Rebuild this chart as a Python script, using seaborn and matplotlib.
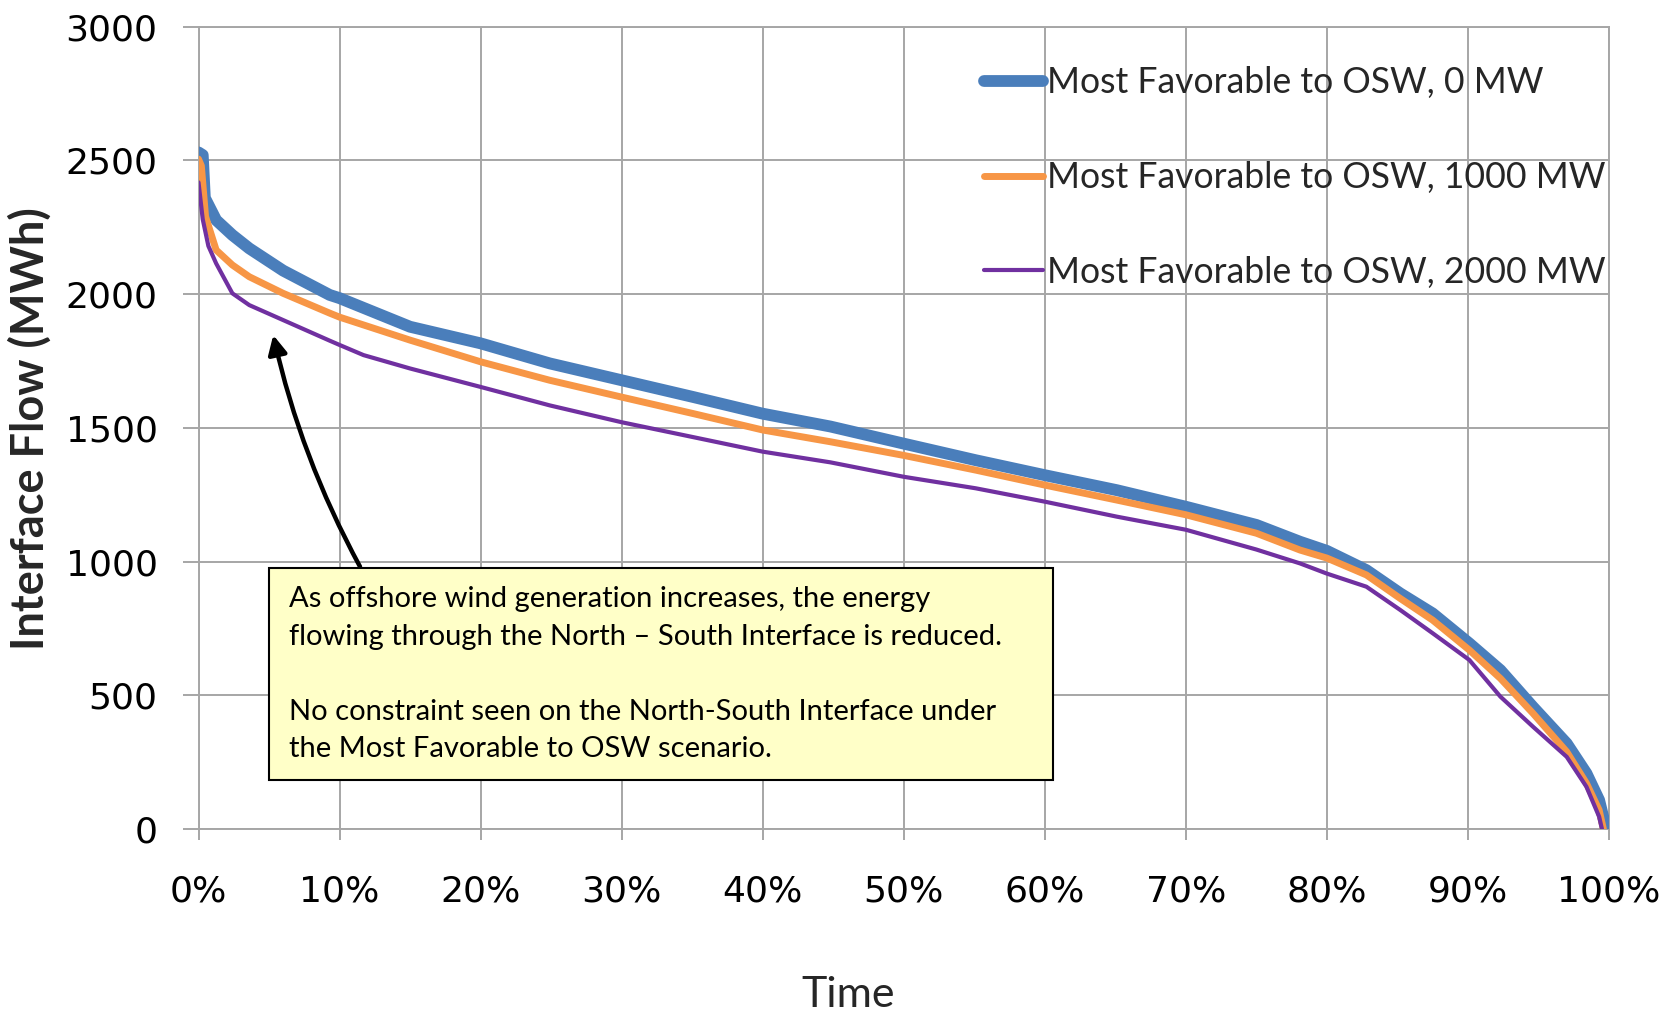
import matplotlib
matplotlib.use("Agg")
import matplotlib.pyplot as plt
from matplotlib.patches import Rectangle
import seaborn as sns
import pandas as pd

# Duration curves of North-South interface flow (share of hours, MWh)
time_0mw = [0.0, 0.3, 0.45, 1.25, 2.4, 3.6, 6.0, 9.3, 10.0, 15.0, 20.0, 24.9, 30.0,
            35.1, 40.0, 44.8, 50.0, 55.1, 60.0, 65.1, 70.0, 75.0, 78.1, 80.0, 82.8,
            85.2, 87.5, 90.1, 92.3, 94.6, 97.0, 98.4, 99.3, 99.8]
flow_0mw = [2530, 2520, 2360, 2277, 2221, 2171, 2088, 1997, 1985, 1878, 1816, 1741, 1678,
            1615, 1553, 1505, 1441, 1379, 1323, 1267, 1205, 1137, 1074, 1040, 968,
            881, 806, 694, 594, 457, 320, 208, 108, 0]

time_1000mw = [0.0, 0.2, 0.5, 1.25, 2.4, 3.6, 6.0, 9.3, 10.0, 15.0, 20.0, 24.9, 30.0,
               35.1, 40.0, 44.8, 50.0, 55.1, 60.0, 65.1, 70.0, 75.0, 78.1, 80.0, 82.8,
               85.2, 87.5, 90.1, 92.3, 94.6, 97.0, 98.4, 99.3, 99.6]
flow_1000mw = [2505, 2480, 2290, 2165, 2109, 2065, 2003, 1929, 1914, 1828, 1747, 1678, 1615,
               1553, 1492, 1448, 1397, 1342, 1286, 1230, 1175, 1106, 1043, 1013, 950,
               862, 781, 669, 563, 433, 289, 171, 71, 0]

time_2000mw = [0.0, 0.3, 0.7, 1.25, 2.4, 3.6, 6.0, 9.3, 10.0, 11.7, 15.0, 20.0, 24.9,
               30.0, 35.1, 40.0, 44.8, 50.0, 55.1, 60.0, 65.1, 70.0, 75.0, 78.1, 80.0,
               82.8, 85.2, 87.5, 90.1, 92.3, 94.6, 97.0, 98.4, 99.3, 99.5]
flow_2000mw = [2418, 2280, 2180, 2115, 2003, 1959, 1903, 1826, 1810, 1772, 1722, 1653, 1584,
               1521, 1465, 1411, 1371, 1317, 1274, 1224, 1168, 1119, 1045, 993, 955,
               906, 819, 732, 632, 495, 383, 270, 158, 46, 0]

series_labels = ["Most Favorable to OSW, 0 MW",
                 "Most Favorable to OSW, 1000 MW",
                 "Most Favorable to OSW, 2000 MW"]
series_colors = ["#4a7ebb", "#f79646", "#7030a0"]
series_widths = [8.5, 5.0, 3.0]

x_ticks = [0, 10, 20, 30, 40, 50, 60, 70, 80, 90, 100]
x_tick_labels = [f"{t}%" for t in x_ticks]
y_ticks = [0, 500, 1000, 1500, 2000, 2500, 3000]

note_lines = ["As offshore wind generation increases, the energy",
              "flowing through the North \u2013 South Interface is reduced.",
              "",
              "No constraint seen on the North-South Interface under",
              "the Most Favorable to OSW scenario."]

sns.set_theme(style="white")
plt.rcParams["font.family"] = ["DejaVu Sans"]

grid_gray = "#a6a6a6"
text_font = ["Lato", "DejaVu Sans"]

fig = plt.figure(figsize=(16.73, 10.13), dpi=100)
ax = fig.add_axes([198.5 / 1673, 1 - 829 / 1013, 1410.5 / 1673, 802.3 / 1013])

frames = [
    pd.DataFrame({"time": time_0mw, "flow": flow_0mw}),
    pd.DataFrame({"time": time_1000mw, "flow": flow_1000mw}),
    pd.DataFrame({"time": time_2000mw, "flow": flow_2000mw}),
]
for df, lab, col, lw in zip(frames, series_labels, series_colors, series_widths):
    sns.lineplot(data=df, x="time", y="flow", ax=ax, color=col, linewidth=lw,
                 label=lab, sort=False, estimator=None, zorder=3)
for ln in ax.get_lines():
    ln.set_solid_capstyle("round")
    ln.set_solid_joinstyle("round")

ax.set_xlim(0, 100)
ax.set_ylim(0, 3000)
ax.set_xticks(x_ticks)
ax.set_xticklabels(x_tick_labels)
ax.set_yticks(y_ticks)
ax.grid(True, color=grid_gray, linewidth=1.4)
ax.set_axisbelow(True)
for sp in ax.spines.values():
    sp.set_color(grid_gray)
    sp.set_linewidth(1.4)
ax.tick_params(axis="y", direction="out", length=11.5, width=1.4, color=grid_gray,
               labelsize=26, pad=18, left=True, labelcolor="black")
ax.tick_params(axis="x", direction="out", length=8, width=1.4, color=grid_gray,
               labelsize=26, pad=25, bottom=True, labelcolor="black")

ax.set_xlabel("Time", fontsize=31, family=text_font, va="center")
ax.xaxis.set_label_coords(0.4605, -0.207)
ax.set_ylabel("Interface Flow (MWh)", fontsize=32.5, fontweight="bold",
              family=text_font, va="center")
ax.yaxis.set_label_coords(-0.1195, 0.499)

leg = ax.legend(loc="upper left", bbox_to_anchor=(984 / 1673, 1 - 66.5 / 1013),
                bbox_transform=fig.transFigure, frameon=False, borderpad=0,
                borderaxespad=0, handlelength=1.66, handletextpad=0.12,
                labelspacing=1.73, prop={"family": text_font, "size": 25.6})
for h in leg.get_lines():
    h.set_solid_capstyle("round")

# Note box with its pointer
box = Rectangle((0.05, 0.0611), 0.5558, 0.2647, transform=ax.transAxes,
                facecolor="#ffffc8", edgecolor="black", linewidth=1.5, zorder=5)
ax.add_patch(box)
baseline_px = [607, 644.6, 682.2, 719.8, 757.4]
for line, by in zip(note_lines, baseline_px):
    if line:
        ax.text(0.0642, (829 - by) / 802.3, line, transform=ax.transAxes,
                ha="left", va="baseline", fontsize=21, color="black",
                family=text_font, zorder=6)

ax.annotate("", xy=(5.3, 1847), xytext=(11.45, 981),
            arrowprops=dict(arrowstyle="-|>", color="black", lw=3.2,
                            mutation_scale=28, shrinkA=0, shrinkB=0,
                            connectionstyle="arc3,rad=-0.07"),
            zorder=6)

fig.savefig("out.png", dpi=100, facecolor="white")
